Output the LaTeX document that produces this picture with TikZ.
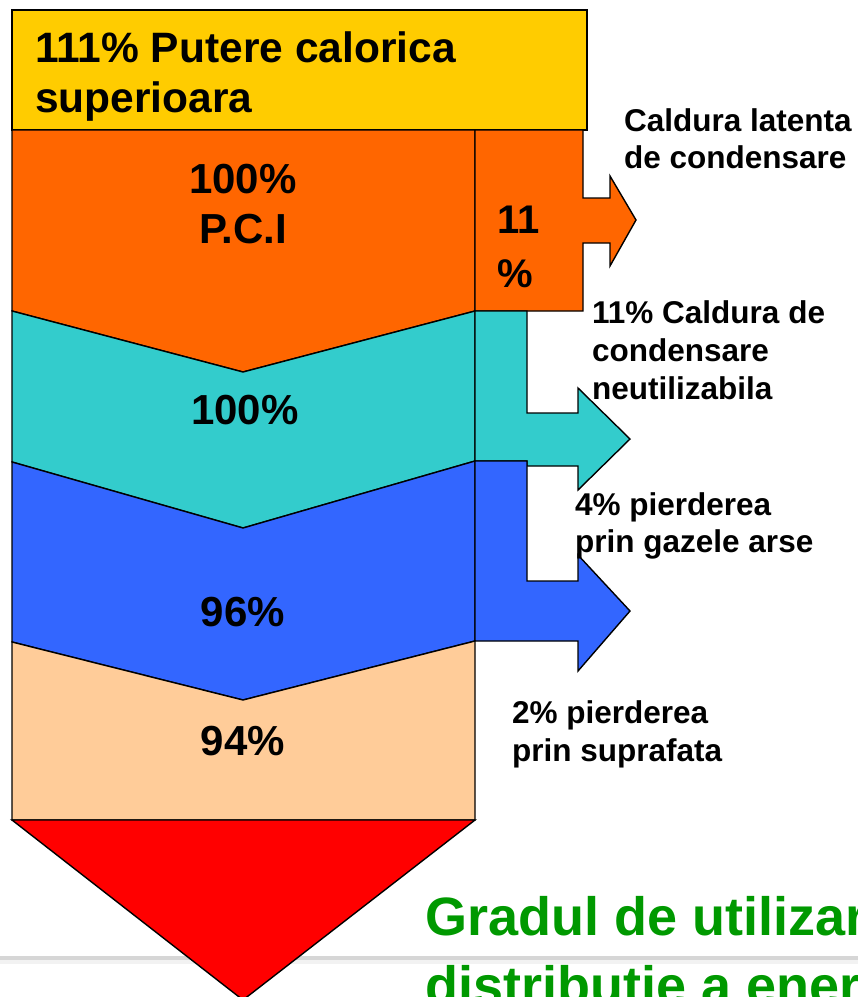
\documentclass[tikz,border=0pt]{standalone}
\usepackage{fontspec}
\setmainfont{Liberation Sans}
\definecolor{cyel}{HTML}{FFCC00}
\definecolor{corg}{HTML}{FF6600}
\definecolor{cteal}{HTML}{33CCCC}
\definecolor{cblue}{HTML}{3366FF}
\definecolor{cpeach}{HTML}{FFCC99}
\definecolor{cred}{HTML}{FF0000}
\definecolor{cgreen}{HTML}{009900}
\begin{document}
\begin{tikzpicture}[x=1pt,y=-1pt,line join=miter,
  blk/.style={draw=black,line width=1.4pt},
  big/.style={inner sep=0,anchor=base,font=\bfseries\fontsize{42}{48}\selectfont},
  ttl/.style={inner sep=0,anchor=base west,font=\bfseries\fontsize{42.5}{48}\selectfont},
  lbl/.style={inner sep=0,anchor=base west,font=\bfseries\fontsize{31.5}{38}\selectfont},
  grn/.style={inner sep=0,anchor=base west,text=cgreen,font=\bfseries\fontsize{54}{60}\selectfont}]
\useasboundingbox (0,0) rectangle (858,997);
\clip (0,0) rectangle (858,997);
\fill[white] (0,0) rectangle (858,997);
% footer rule
\fill[black!16] (0,956) rectangle (858,960);
\fill[black!5] (0,960) rectangle (858,964);
% yellow
\filldraw[blk,fill=cyel] (12,10) rectangle (587,130);
% orange
\filldraw[blk,fill=corg] (12,130) -- (475,130) -- (475,311) -- (243,372) -- (12,311) -- cycle;
\filldraw[blk,fill=corg] (475,130) -- (583,130) -- (583,198) -- (610,198) -- (610,176) -- (636,220)
  -- (610,266) -- (610,243) -- (583,243) -- (583,311) -- (475,311) -- cycle;
% teal
\filldraw[blk,fill=cteal] (12,311) -- (243,372) -- (475,311) -- (475,461) -- (243,528) -- (12,462) -- cycle;
\filldraw[blk,fill=cteal] (475,311) -- (527,311) -- (527,413) -- (578,413) -- (578,388) -- (630,439)
  -- (578,490) -- (578,466) -- (527,466) -- (527,461) -- (475,461) -- cycle;
% blue
\filldraw[blk,fill=cblue] (12,462) -- (243,528) -- (475,461) -- (475,641) -- (243,700) -- (12,642) -- cycle;
\filldraw[blk,fill=cblue] (475,461) -- (527,461) -- (527,581) -- (578,581) -- (578,555) -- (630,611)
  -- (578,671) -- (578,641) -- (475,641) -- cycle;
% peach
\filldraw[blk,fill=cpeach] (12,642) -- (243,700) -- (475,641) -- (475,820) -- (12,820) -- cycle;
% red
\filldraw[blk,fill=cred] (12,820) -- (475,820) -- (243,1000) -- cycle;
% texts
\node[ttl] (t1) at (35,62) {111\% Putere calorica};
\node[ttl] (t2) at (35,112) {superioara};
\node[big] (pci1) at (243,193) {100\%};
\node[big] (pci2) at (243,243) {P.C.I};
\node[inner sep=0,anchor=base west,font=\bfseries\fontsize{40}{48}\selectfont] (e1) at (497,233) {11};
\node[inner sep=0,anchor=base west,font=\bfseries\fontsize{40}{48}\selectfont] (e2) at (497,287) {\%};
\node[big] (p100) at (245,424) {100\%};
\node[big] (p96) at (243,626) {96\%};
\node[big] (p94) at (243,755) {94\%};
\node[lbl] (a1) at (624,131) {Caldura latenta};
\node[lbl] (a2) at (624,168) {de condensare};
\node[lbl] (b1) at (592,323) {11\% Caldura de};
\node[lbl] (b2) at (592,361) {condensare};
\node[lbl] (b3) at (592,399) {neutilizabila};
\node[lbl] (c1) at (575,515) {4\% pierderea};
\node[lbl] (c2) at (575,552) {prin gazele arse};
\node[lbl] (d1) at (512,723) {2\% pierderea};
\node[lbl] (d2) at (512,761) {prin suprafata};
\node[grn] (g1) at (425,935) {Gradul de utilizar};
\node[grn] (g2) at (425,1004) {distributie a energ};
\end{tikzpicture}
\end{document}
